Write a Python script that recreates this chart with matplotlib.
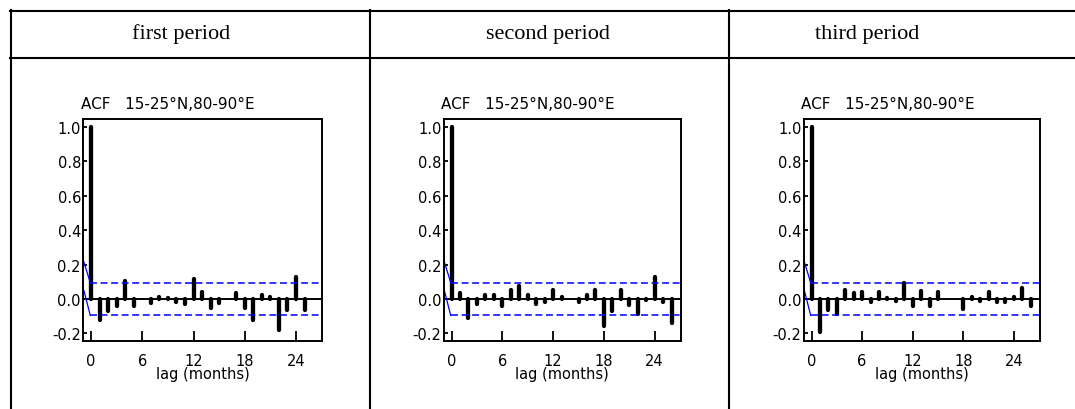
import numpy as np
import matplotlib
matplotlib.use('Agg')
import matplotlib.pyplot as plt
from matplotlib.lines import Line2D

plt.rcParams.update({'font.family': ['DejaVu Sans']})
plt.rcParams.update({'font.size': 10.5})
plt.rcParams.update({'lines.scale_dashes': False})

#%% data
headers = ['first period', 'second period', 'third period']
title = 'ACF   15-25\u00b0N,80-90\u00b0E'
xlabel = 'lag (months)'
xticks = [0, 6, 12, 18, 24]
yticks = [-0.2, 0.0, 0.2, 0.4, 0.6, 0.8, 1.0]

acf_first = [1.0, -0.12, -0.07, -0.04, 0.105, -0.04, 0.0, -0.025, 0.01, 0.008,
             -0.015, -0.03, 0.115, 0.04, -0.055, -0.025, 0.0, 0.035, -0.05,
             -0.12, 0.025, 0.01, -0.18, -0.065, 0.13, -0.065]
acf_second = [1.0, 0.035, -0.11, -0.03, 0.025, 0.025, -0.04, 0.055, 0.075,
              0.025, -0.03, -0.02, 0.05, 0.01, 0.0, -0.02, 0.025, 0.05,
              -0.155, -0.07, 0.05, -0.035, -0.085, -0.005, 0.13, -0.02, -0.14]
acf_third = [1.0, -0.19, -0.065, -0.085, 0.05, 0.035, 0.04, -0.02, 0.04,
             0.005, -0.01, 0.09, -0.04, 0.045, -0.04, 0.04, 0.0, 0.0, -0.06,
             0.01, -0.01, 0.04, -0.02, -0.015, 0.01, 0.065, -0.04]
acf_all = [acf_first, acf_second, acf_third]

conf_band = 0.095
lead_x = [-0.85, -0.1]
lead_upper = [0.215, 0.095]
lead_lower = [0.05, -0.095]

#%% figure
W, H = 1075, 410
fig = plt.figure(figsize=(W / 100, H / 100), dpi=100)

# table frame (pixel coords)
def hline(y, x0, x1):
    fig.add_artist(Line2D([x0 / W, x1 / W], [1 - y / H, 1 - y / H],
                          color='k', lw=1.5, transform=fig.transFigure))

def vline(x, y0, y1):
    fig.add_artist(Line2D([x / W, x / W], [1 - y0 / H, 1 - y1 / H],
                          color='k', lw=1.5, transform=fig.transFigure))

hline(12, 10, W)
hline(59, 10, W)
for xx in [10.5, 370, 729]:
    vline(xx, 11.3, H)

header_x = [181, 548, 867]
for hx, txt in zip(header_x, headers):
    fig.text(hx / W, 1 - 34 / H, txt, ha='center', va='center',
             family=['Liberation Serif', 'DejaVu Serif'], fontsize=16)

ax_left = [83, 443.5, 803.5]
ax_width = [239, 237, 236]
ax_top, ax_bot = 120, 342

for i, acf in enumerate(acf_all):
    ax = fig.add_axes([ax_left[i] / W, 1 - ax_bot / H, ax_width[i] / W,
                       (ax_bot - ax_top) / H])
    lags = np.arange(len(acf))
    ax.vlines(lags, 0, acf, color='k', lw=3.1, capstyle='round')
    ax.axhline(0, color='k', lw=1.4)
    ax.plot([-0.1, 28], [conf_band, conf_band], color='#0000ff', lw=1.1,
            dashes=(5, 2.6))
    ax.plot([-0.1, 28], [-conf_band, -conf_band], color='#0000ff', lw=1.1,
            dashes=(5, 2.6))
    ax.plot(lead_x, lead_upper, color='#0000ff', lw=0.9)
    ax.plot(lead_x, lead_lower, color='#0000ff', lw=0.9)

    ax.set_xlim(-0.95, 27.05)
    ax.set_ylim(-0.244, 1.045)
    ax.set_xticks(xticks)
    ax.set_yticks(yticks)
    ax.set_yticklabels(['%.1f' % v for v in yticks])
    ax.tick_params(axis='x', direction='in', length=7.5, width=1.3, pad=8.5)
    ax.tick_params(axis='y', direction='in', length=3, width=1.3, pad=1.5)
    for sp in ax.spines.values():
        sp.set_linewidth(1.4)
    ax.set_xlabel(xlabel, labelpad=-1.5)
    ax.annotate(title, xy=(0, 1), xycoords='axes fraction',
                xytext=(-1.5, 10.8), textcoords='offset points',
                ha='left', va='center', fontsize=11)

plt.savefig('out.png', dpi=100)
